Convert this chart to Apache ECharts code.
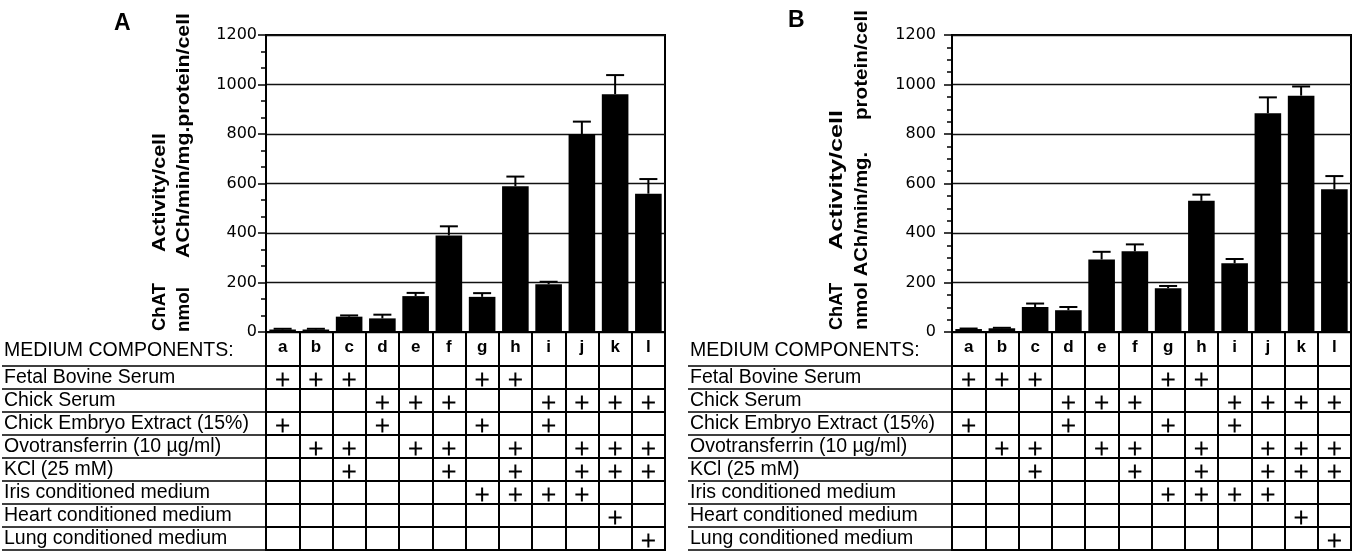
<!DOCTYPE html>
<html>
<head>
<meta charset="utf-8">
<script src="https://cdn.jsdelivr.net/npm/echarts@6/dist/echarts.min.js"></script>
<style>
  html, body { margin: 0; padding: 0; background: #fff; }
  #chart { width: 1359px; height: 560px; }
</style>
</head>
<body>
<div id="chart"></div>
<script>
// Culture conditions a–l
const categories = ['a', 'b', 'c', 'd', 'e', 'f', 'g', 'h', 'i', 'j', 'k', 'l'];

// Y axis range and step (tick labels 0 … 1200)
const yMin = 0;
const yMax = 1200;
const yStep = 200;

// Medium components listed in the table rows
const components = [
  'Fetal Bovine Serum',
  'Chick Serum',
  'Chick Embryo Extract (15%)',
  'Ovotransferrin (10 µg/ml)',
  'KCl (25 mM)',
  'Iris conditioned medium',
  'Heart conditioned medium',
  'Lung conditioned medium'
];

// Conditions that contain each component (one string per row)
const presentA = ['abcgh', 'defijkl', 'adgi', 'bcefhjkl', 'cfhjkl', 'ghij', 'k', 'l'];
const presentB = ['abcgh', 'defijkl', 'adgi', 'bcefhjkl', 'cfhjkl', 'ghij', 'k', 'l'];

// ChAT activity per cell (nmol ACh/min/mg protein/cell) and upper error
const activityA = [10, 10, 62, 55, 145, 390, 142, 589, 193, 800, 961, 559];
const errorA    = [3, 3, 5, 15, 13, 37, 15, 39, 10, 50, 77, 59];
const activityB = [12, 15, 101, 88, 293, 326, 177, 530, 278, 884, 955, 577];
const errorB    = [2, 2, 14, 13, 31, 28, 9, 25, 17, 64, 37, 53];

// Axis title pieces per panel
const titleA = [
  ['ChAT', 'Activity/cell'],
  ['nmol', 'ACh/min/mg.protein/cell']
];
const titleB = [
  ['ChAT', 'Activity/cell'],
  ['nmol ACh/min/mg.', 'protein/cell']
];

const FONT = '"Liberation Sans", Arial, sans-serif';

// measure a string so rotated titles can be stretched to their span
const measureCtx = document.createElement('canvas').getContext('2d');
function textWidth(str, font) {
  measureCtx.font = font;
  return measureCtx.measureText(str).width;
}

const panels = [
  {
    letter: 'A', values: activityA, errors: errorA, present: presentA, title: titleA,
    left: 266, width: 399, labelMargin: 9, minorSplit: 3, rowLeft: 2,
    letterPos: [114, 12], headX: 4,
    titleLayout: [
      { x: 160, pieces: [[331, 48], [252, 119]] },
      { x: 184, pieces: [[332, 45], [258, 245]] }
    ]
  },
  {
    letter: 'B', values: activityB, errors: errorB, present: presentB, title: titleB,
    left: 952, width: 399, labelMargin: 16, minorSplit: 4, rowLeft: 688,
    letterPos: [788, 9], headX: 690,
    titleLayout: [
      { x: 837, pieces: [[330, 47], [250, 140]] },
      { x: 862, pieces: [[330, 178], [120, 110]] }
    ]
  }
];

const barTop = 35, barHeight = 297;
const tableTop = 366, tableHeight = 184;
const black = '#000';

const grid = [], xAxis = [], yAxis = [], series = [], graphic = [];

panels.forEach((p, pi) => {
  const gBar = pi * 2, gTab = pi * 2 + 1;

  grid.push({
    left: p.left, top: barTop, width: p.width, height: barHeight,
    show: true, borderColor: black, borderWidth: 2, backgroundColor: 'transparent'
  });
  grid.push({
    left: p.left, top: tableTop, width: p.width, height: tableHeight,
    show: true, borderColor: black, borderWidth: 2, backgroundColor: 'transparent'
  });

  // bar chart axes
  xAxis.push({
    gridIndex: gBar, type: 'category', data: categories,
    axisLine: { show: true, lineStyle: { color: black, width: 2 } },
    axisTick: { show: false }, axisLabel: { show: false }, splitLine: { show: false }
  });
  yAxis.push({
    gridIndex: gBar, type: 'value', min: yMin, max: yMax, interval: yStep,
    axisLine: { show: true, lineStyle: { color: black, width: 2 } },
    axisTick: { show: true, length: 8, lineStyle: { color: black, width: 1.5 } },
    minorTick: { show: true, splitNumber: p.minorSplit, length: 5, lineStyle: { color: black, width: 1.5 } },
    splitLine: { show: true, lineStyle: { color: '#111', width: 1.4 } },
    axisLabel: {
      margin: p.labelMargin, color: black, fontFamily: 'DejaVu Sans', fontSize: 16,
      formatter: v => String(v)
    }
  });

  // table axes: columns = conditions, rows = components
  xAxis.push({
    gridIndex: gTab, type: 'category', data: categories, position: 'top',
    axisLine: { show: true, lineStyle: { color: black, width: 2 } },
    axisTick: { show: true, interval: 0, length: tableTop - barTop - barHeight, lineStyle: { color: black, width: 2 } },
    axisLabel: { interval: 0, margin: 10, color: black, fontWeight: 'bold', fontSize: 17, fontFamily: FONT },
    splitLine: { show: true, interval: 0, lineStyle: { color: black, width: 2 } }
  });
  yAxis.push({
    gridIndex: gTab, type: 'category', data: components, inverse: true,
    axisLine: { show: false },
    axisTick: { show: true, interval: 0, length: p.left - p.rowLeft, lineStyle: { color: black, width: 1.5 } },
    axisLabel: { interval: 0, align: 'left', margin: p.left - p.rowLeft - 2, color: black, fontSize: 19.5, fontFamily: FONT },
    splitLine: { show: true, interval: 0, lineStyle: { color: black, width: 2 } }
  });

  series.push({
    type: 'bar', xAxisIndex: gBar, yAxisIndex: gBar, data: p.values,
    barWidth: '80%', itemStyle: { color: black }, silent: true, animation: false
  });

  series.push({
    type: 'custom', xAxisIndex: gBar, yAxisIndex: gBar,
    data: p.values.map((v, i) => [i, v, p.errors[i]]),
    encode: { x: 0, y: 1 }, silent: true, animation: false, z: 5,
    renderItem: (params, api) => {
      const i = api.value(0), v = api.value(1), e = api.value(2);
      const base = api.coord([i, v]);
      const top = api.coord([i, v + e]);
      const cap = 9;
      const st = { stroke: black, lineWidth: 2 };
      return {
        type: 'group',
        children: [
          { type: 'line', shape: { x1: base[0], y1: base[1], x2: top[0], y2: top[1] }, style: st },
          { type: 'line', shape: { x1: top[0] - cap, y1: top[1], x2: top[0] + cap, y2: top[1] }, style: st }
        ]
      };
    }
  });

  const plusData = [];
  p.present.forEach((row, r) => {
    categories.forEach((c, ci) => { if (row.indexOf(c) >= 0) plusData.push([ci, r]); });
  });
  series.push({
    type: 'custom', xAxisIndex: gTab, yAxisIndex: gTab, data: plusData,
    encode: { x: 0, y: 1 }, silent: true, animation: false, z: 5,
    renderItem: (params, api) => {
      const c = api.coord([api.value(0), api.value(1)]);
      const cx = c[0], cy = c[1] + 2;
      const st = { stroke: black, lineWidth: 2 };
      return {
        type: 'group',
        children: [
          { type: 'line', shape: { x1: cx - 6.5, y1: cy, x2: cx + 6.5, y2: cy }, style: st },
          { type: 'line', shape: { x1: cx, y1: cy - 7, x2: cx, y2: cy + 7 }, style: st }
        ]
      };
    }
  });

  // panel letter
  graphic.push({
    type: 'text', left: p.letterPos[0], top: p.letterPos[1], silent: true,
    style: { text: p.letter, font: 'bold 23px ' + FONT, fill: black }
  });
  // header label of the table
  graphic.push({
    type: 'text', x: p.headX, y: 351, silent: true,
    style: { text: 'MEDIUM COMPONENTS:', font: '19.5px ' + FONT, fill: black, align: 'left', verticalAlign: 'middle' }
  });
  // rotated y-axis title, two lines
  const tFont = 'bold 18px ' + FONT;
  p.titleLayout.forEach((line, li) => {
    line.pieces.forEach((piece, k) => {
      const str = p.title[li][k];
      const s = piece[1] / textWidth(str, tFont);
      graphic.push({
        type: 'text', x: line.x, y: piece[0], rotation: Math.PI / 2, scaleX: s, silent: true,
        style: { text: str, font: tFont, fill: black, align: 'left', verticalAlign: 'middle' }
      });
    });
  });
});

const chart = echarts.init(document.getElementById('chart'), null, { renderer: 'canvas' });
chart.setOption({
  backgroundColor: '#fff',
  animation: false,
  grid, xAxis, yAxis, series, graphic
});
</script>
</body>
</html>
